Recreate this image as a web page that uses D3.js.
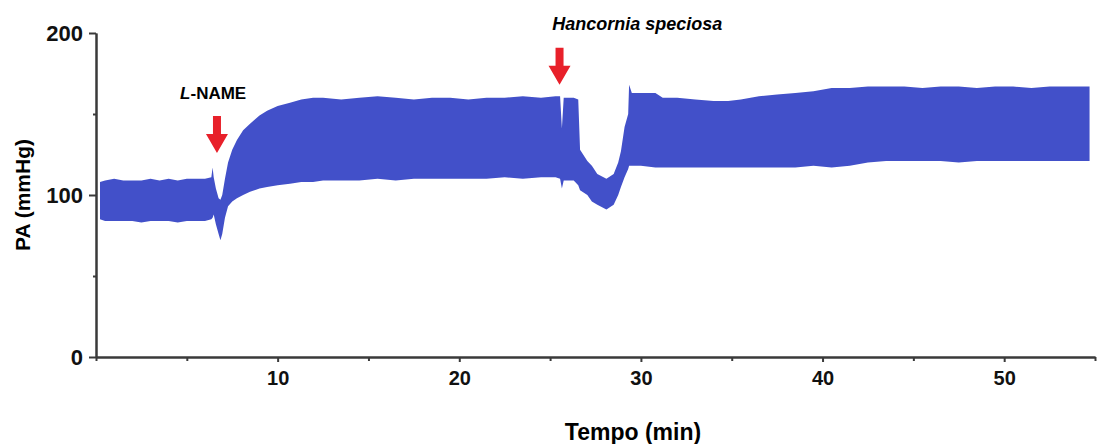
<!DOCTYPE html>
<html>
<head>
<meta charset="utf-8">
<script src="https://cdn.jsdelivr.net/npm/d3@7"></script>
<style>
  body { margin: 0; background: #fff; }
  svg { display: block; font-family: "Liberation Sans", Arial, sans-serif; }
  .axis path, .axis line { stroke: #3a3a3a; stroke-width: 2; }
  .axis text { fill: #111; font-weight: bold; }
</style>
</head>
<body>
<svg id="svg" width="1098" height="444"></svg>
<script>
// recorded pressure band (min / mmHg): upper = systolic, lower = diastolic
const time = [
    0.22, 0.5, 1.0, 1.5, 2.0, 2.5, 3.0, 3.5, 4.0, 4.5, 5.0, 5.5, 6.0, 6.35,
    6.42, 6.48, 6.6, 6.75, 6.85, 6.95, 7.1, 7.27, 7.5, 7.76, 8.1, 8.48, 9.0, 9.42, 10.0, 10.68, 11.3, 11.95,
    12.5, 13.5, 14.5, 15.5, 16.5, 17.5, 18.5, 19.5, 20.5, 21.5, 22.5, 23.5, 24.5, 25.3,
    25.55, 25.65, 25.75, 26.3, 26.55, 26.65, 27.05, 27.3, 27.6, 28.1, 28.5, 28.75, 28.9, 29.1, 29.3, 29.35, 29.5,
    30.0, 30.8, 31.2, 32.0, 33.0, 34.0, 34.8, 35.5, 36.5, 37.5, 38.5, 39.5, 40.5, 41.5,
    42.5, 43.5, 44.5, 45.5, 46.5, 47.5, 48.5, 49.5, 50.5, 51.5, 52.5, 53.5, 54.7
];
const upper = [
    108, 109, 110, 109, 109, 109, 110, 109, 110, 109, 110, 110, 110, 111,
    117, 111, 104, 98, 97, 100, 110, 120, 128, 134, 140, 144, 149, 152, 155, 157, 159, 160,
    160, 159, 160, 161, 160, 159, 160, 160, 159, 160, 160, 161, 160, 161,
    161, 141, 160, 160, 159, 128, 121, 118, 113, 110, 113, 120, 127, 142, 150, 168, 163,
    163, 163, 160, 160, 159, 158, 158, 159, 161, 162, 163, 164, 166, 166,
    167, 167, 167, 166, 167, 167, 166, 167, 167, 166, 167, 167, 167
];
const lower = [
    85, 84, 84, 84, 84, 83, 84, 84, 84, 83, 84, 84, 84, 85,
    86, 88, 82, 76, 72, 76, 86, 93, 96, 98, 100, 102, 104, 105, 106, 107, 108, 108,
    109, 109, 109, 110, 109, 110, 110, 110, 110, 110, 111, 110, 111, 111,
    110, 104, 109, 109, 106, 103, 100, 96, 94, 91, 94, 100, 105, 111, 116, 118, 118,
    118, 117, 117, 117, 117, 117, 117, 117, 117, 117, 117, 118, 117, 118,
    120, 121, 121, 121, 121, 120, 121, 121, 121, 121, 121, 121, 121
];

const xMajor = [10, 20, 30, 40, 50];
const xMinor = [0, 5, 15, 25, 35, 45, 55];
const yMajor = [0, 100, 200];
const yMinor = [50, 150];

// injection markers
const markerNames = ["L-NAME", "Hancornia speciosa"];
const markerTime = [6.66, 25.52];
const markerTip = [126, 168];
const labelTime = [6.45, 29.8];
const labelValue = [159, 202];

const svg = d3.select("#svg"),
    x = d3.scaleLinear().domain([0, 55]).range([96, 1095]),
    y = d3.scaleLinear().domain([0, 200]).range([357, 33]);

const band = time.map((t, i) => ({t: t, hi: upper[i], lo: lower[i]}));

svg.append("path")
    .datum(band)
    .attr("fill", "rgb(66,80,201)")
    .attr("d", d3.area().x(d => x(d.t)).y0(d => y(d.lo)).y1(d => y(d.hi)));

// axes
svg.append("g").attr("class", "axis").attr("transform", "translate(0," + y(0) + ")")
    .call(d3.axisBottom(x).tickValues(xMinor).tickSize(4).tickSizeOuter(0).tickFormat(""));
svg.append("g").attr("class", "axis").attr("transform", "translate(0," + y(0) + ")")
    .call(d3.axisBottom(x).tickValues(xMajor).tickSize(5).tickSizeOuter(0).tickPadding(9))
    .selectAll("text").style("font-size", "20px");
svg.append("g").attr("class", "axis").attr("transform", "translate(" + x(0) + ",0)")
    .call(d3.axisLeft(y).tickValues(yMinor).tickSize(3).tickSizeOuter(0).tickFormat(""));
svg.append("g").attr("class", "axis").attr("transform", "translate(" + x(0) + ",0)")
    .call(d3.axisLeft(y).tickValues(yMajor).tickSize(7).tickSizeOuter(0).tickPadding(6))
    .selectAll("text").style("font-size", "22px");

svg.append("text")
    .attr("transform", "translate(30," + y(100) + ") rotate(-90)")
    .attr("text-anchor", "middle")
    .style("font-size", "21px").style("font-weight", "bold")
    .text("PA (mmHg)");

svg.append("text")
    .attr("x", 633).attr("y", 440)
    .attr("text-anchor", "middle")
    .style("font-size", "23px").style("font-weight", "bold")
    .text("Tempo (min)");

// arrows
markerTime.forEach((t, i) => {
    const cx = x(t), tip = y(markerTip[i]);
    const p = [[cx - 4, tip - 37], [cx + 4, tip - 37], [cx + 4, tip - 19], [cx + 11, tip - 19],
               [cx, tip], [cx - 11, tip - 19], [cx - 4, tip - 19]];
    svg.append("path").attr("fill", "#e8202a").attr("d", d3.line()(p) + "Z");
});

const lab1 = svg.append("text")
    .attr("x", x(labelTime[0])).attr("y", y(labelValue[0]))
    .attr("text-anchor", "middle")
    .style("font-size", "17px").style("font-weight", "bold");
lab1.append("tspan").style("font-style", "italic").text(markerNames[0].slice(0, 1));
lab1.append("tspan").text(markerNames[0].slice(1));

svg.append("text")
    .attr("x", x(labelTime[1])).attr("y", y(labelValue[1]))
    .attr("text-anchor", "middle")
    .style("font-size", "18px").style("font-weight", "bold").style("font-style", "italic")
    .text(markerNames[1]);
</script>
</body>
</html>
